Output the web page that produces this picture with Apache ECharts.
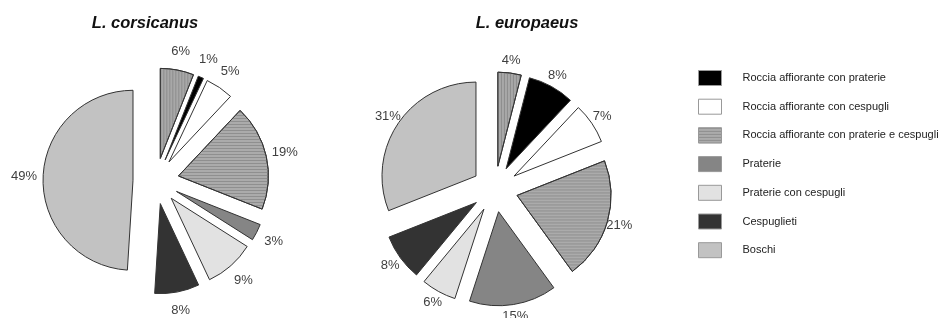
<!DOCTYPE html>
<html>
<head>
<meta charset="utf-8">
<script src="https://cdn.jsdelivr.net/npm/echarts@6/dist/echarts.min.js"></script>
<style>
html, body { margin: 0; padding: 0; background: #fff; }
#main { width: 946px; height: 318px; }
</style>
</head>
<body>
<div id="main"></div>
<script>
// categorie in ordine orario a partire dalle ore 12
var categorie = [
	'Roccia affiorante',
	'Roccia affiorante con praterie',
	'Roccia affiorante con cespugli',
	'Roccia affiorante con praterie e cespugli',
	'Praterie',
	'Praterie con cespugli',
	'Cespuglieti',
	'Boschi'
];
var legenda = categorie.slice(1); // la prima voce non compare in legenda
var corsicanus = [6, 1, 5, 19, 3, 9, 8, 49];
var europaeus = [4, 8, 7, 21, 15, 6, 8, 31];
var titoli = ['L. corsicanus', 'L. europaeus'];

var colori = ['#a8a8a8', '#000000', '#ffffff', '#ababab', '#858585', '#e2e2e2', '#333333', '#c2c2c2'];
var righe = {
	0: { symbol: 'rect', symbolSize: 1, color: '#8c8c8c', dashArrayX: [1, 2], dashArrayY: [4, 0] },
	3: { symbol: 'rect', symbolSize: 1, color: '#8f8f8f', dashArrayX: [4, 0], dashArrayY: [1, 2] }
};
var font = 'Liberation Sans, Arial, sans-serif';

function makeData(valori, vuoto) {
	return valori.map(function (v, i) {
		var stile;
		if (vuoto) {
			stile = { color: 'rgba(0,0,0,0)', borderWidth: 0 };
		} else {
			stile = { color: colori[i], borderColor: '#333', borderWidth: 1 };
			if (righe[i]) stile.decal = righe[i];
		}
		return { name: categorie[i], value: v, selected: true, itemStyle: stile };
	});
}

// torta esplosa
function makePie(valori, centro, raggio) {
	return {
		type: 'pie',
		center: centro,
		radius: raggio,
		startAngle: 90,
		selectedMode: 'multiple',
		selectedOffset: 23,
		animation: false,
		label: { show: false },
		labelLine: { show: false },
		emphasis: { disabled: true },
		select: { itemStyle: { borderColor: '#333', borderWidth: 1 } },
		data: makeData(valori, false)
	};
}

// anello trasparente che porta le etichette
function makeLabels(valori, centro, raggio, dist) {
	return {
		type: 'pie',
		center: centro,
		radius: [raggio, raggio + 2 * dist],
		startAngle: 90,
		selectedMode: 'multiple',
		selectedOffset: 23,
		silent: true,
		animation: false,
		avoidLabelOverlap: false,
		label: {
			show: true,
			position: 'inside',
			formatter: '{c}%',
			color: '#3f3f3f',
			fontSize: 13,
			fontFamily: font
		},
		labelLayout: { hideOverlap: false },
		labelLine: { show: false },
		emphasis: { disabled: true },
		select: {
			itemStyle: { color: 'rgba(0,0,0,0)', borderWidth: 0 },
			label: { color: '#3f3f3f', fontWeight: 'normal' }
		},
		data: makeData(valori, true)
	};
}

var myChart = echarts.init(document.getElementById('main'));
var option = {
	backgroundColor: '#fff',
	animation: false,
	title: [
		{
			text: titoli[0], left: 140, top: 10, textAlign: 'center',
			textStyle: { fontSize: 16.5, fontWeight: 'bold', fontStyle: 'italic', color: '#111', fontFamily: font }
		},
		{
			text: titoli[1], left: 522, top: 10, textAlign: 'center',
			textStyle: { fontSize: 16.5, fontWeight: 'bold', fontStyle: 'italic', color: '#111', fontFamily: font }
		}
	],
	legend: {
		data: legenda,
		orient: 'vertical',
		left: 693,
		top: 65,
		itemWidth: 23,
		itemHeight: 15,
		itemGap: 12.7,
		icon: 'rect',
		selectedMode: false,
		itemStyle: { borderColor: '#999', borderWidth: 1 },
		textStyle: {
			fontSize: 11,
			color: '#222',
			padding: [0, 0, 0, 16],
			fontFamily: font
		}
	},
	series: [
		makePie(corsicanus, [156, 181], 90),
		makePie(europaeus, [495, 189], 94),
		makeLabels(corsicanus, [156, 181], 90, 16),
		makeLabels(europaeus, [495, 189], 94, 9.5)
	]
};
myChart.setOption(option);
</script>
</body>
</html>
